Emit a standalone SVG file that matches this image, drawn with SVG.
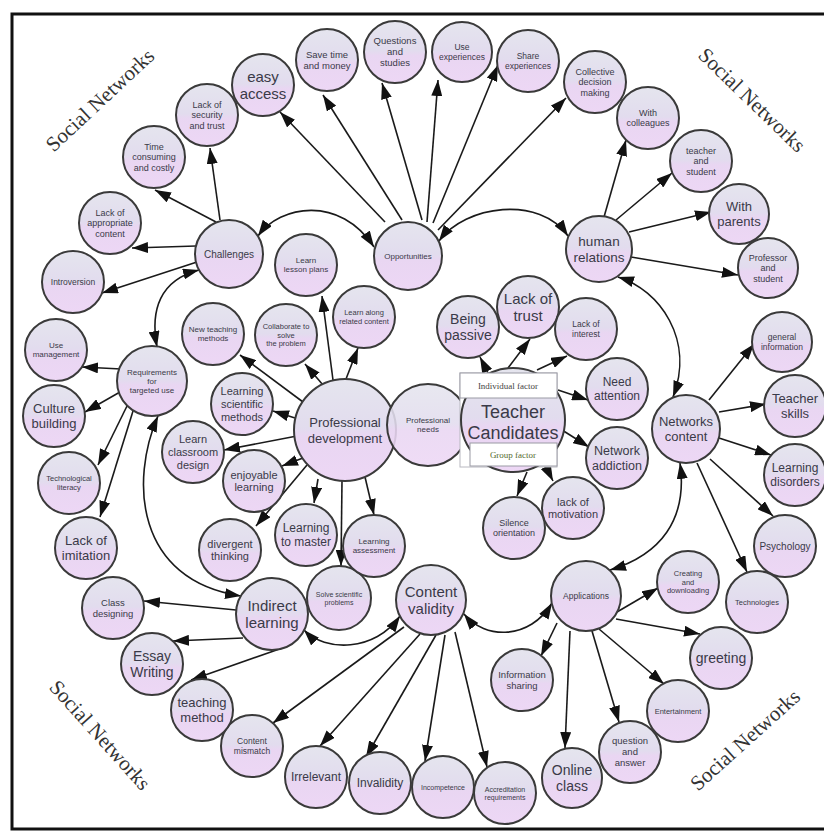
<svg xmlns="http://www.w3.org/2000/svg" width="824" height="832" viewBox="0 0 824 832">
<defs>
<linearGradient id="ng" x1="0" y1="0" x2="0" y2="1">
<stop offset="0" stop-color="#e5e5ee"/>
<stop offset="0.48" stop-color="#e2dcee"/>
<stop offset="0.56" stop-color="#e9d6f2"/>
<stop offset="1" stop-color="#edd7f5"/>
</linearGradient>
<marker id="ah" markerUnits="userSpaceOnUse" markerWidth="16" markerHeight="11" viewBox="0 0 16 11" refX="16" refY="5.5" orient="auto-start-reverse">
<path d="M0,0 L16,5.5 L0,11 z" fill="#111"/>
</marker>
</defs>
<style>
.node circle{fill:url(#ng);stroke:#3a3a3a;stroke-width:2}
.node text{font-family:"Liberation Sans",Arial,sans-serif;fill:#3a3a48;text-anchor:middle}
.edges line,.edges path{stroke:#1a1a1a;stroke-width:1.6;fill:none;marker-end:url(#ah)}
.edges path{marker-start:url(#ah)}
.sn{font-family:"Liberation Serif","Times New Roman",serif;font-size:21px;fill:#333;text-anchor:middle}
</style>
<rect x="0" y="0" width="824" height="832" fill="#fff"/>
<rect x="12" y="14" width="814" height="815" fill="#fff" stroke="#111" stroke-width="3"/>
<g id="labels">
<text class="sn" transform="translate(100,100) rotate(-43)" y="7">Social Networks</text>
<text class="sn" transform="translate(752,100) rotate(44)" y="7">Social Networks</text>
<text class="sn" transform="translate(100,735) rotate(48)" y="7">Social Networks</text>
<text class="sn" transform="translate(745,740) rotate(-42)" y="7">Social Networks</text>
</g>
<g id="connectors" class="edges">
<line x1="385" y1="222" x2="280" y2="112"/>
<line x1="402" y1="220" x2="323" y2="95"/>
<line x1="422" y1="220" x2="382" y2="83"/>
<line x1="427" y1="222" x2="438" y2="80"/>
<line x1="433" y1="223" x2="498" y2="65"/>
<line x1="438" y1="230" x2="566" y2="98"/>
<line x1="220" y1="220" x2="210" y2="148"/>
<line x1="216" y1="222" x2="155" y2="190"/>
<line x1="196" y1="246" x2="132" y2="248"/>
<line x1="197" y1="262" x2="102" y2="293"/>
<line x1="604" y1="217" x2="626" y2="140"/>
<line x1="616" y1="220" x2="672" y2="173"/>
<line x1="629" y1="232" x2="711" y2="212"/>
<line x1="631" y1="257" x2="738" y2="275"/>
<line x1="121" y1="369" x2="82" y2="367"/>
<line x1="120" y1="392" x2="85" y2="412"/>
<line x1="127" y1="406" x2="98" y2="465"/>
<line x1="133" y1="411" x2="100" y2="517"/>
<line x1="333" y1="380" x2="322" y2="296"/>
<line x1="346" y1="379" x2="358" y2="348"/>
<line x1="323" y1="385" x2="305" y2="364"/>
<line x1="303" y1="402" x2="240" y2="355"/>
<line x1="295" y1="418" x2="273" y2="411"/>
<line x1="297" y1="436" x2="224" y2="450"/>
<line x1="303" y1="458" x2="282" y2="466"/>
<line x1="307" y1="465" x2="256" y2="526"/>
<line x1="318" y1="479" x2="314" y2="503"/>
<line x1="342" y1="481" x2="341" y2="566"/>
<line x1="365" y1="477" x2="374" y2="515"/>
<line x1="489" y1="375" x2="480" y2="357"/>
<line x1="508" y1="368" x2="530" y2="339"/>
<line x1="537" y1="370" x2="567" y2="356"/>
<line x1="558" y1="390" x2="588" y2="400"/>
<line x1="562" y1="430" x2="589" y2="447"/>
<line x1="545" y1="465" x2="553" y2="481"/>
<line x1="527" y1="472" x2="517" y2="496"/>
<line x1="709" y1="400" x2="754" y2="344"/>
<line x1="719" y1="412" x2="766" y2="404"/>
<line x1="719" y1="438" x2="771" y2="455"/>
<line x1="710" y1="459" x2="773" y2="516"/>
<line x1="697" y1="463" x2="747" y2="572"/>
<line x1="617" y1="612" x2="658" y2="588"/>
<line x1="616" y1="619" x2="700" y2="634"/>
<line x1="599" y1="629" x2="664" y2="684"/>
<line x1="592" y1="631" x2="619" y2="722"/>
<line x1="570" y1="631" x2="565" y2="748"/>
<line x1="557" y1="623" x2="541" y2="656"/>
<line x1="455" y1="632" x2="487" y2="767"/>
<line x1="445" y1="635" x2="425" y2="761"/>
<line x1="436" y1="635" x2="366" y2="757"/>
<line x1="420" y1="634" x2="320" y2="746"/>
<line x1="404" y1="627" x2="273" y2="723"/>
<line x1="236" y1="610" x2="144" y2="601"/>
<line x1="243" y1="638" x2="173" y2="641"/>
<line x1="288" y1="646" x2="191" y2="680"/>
<path d="M258,236 C280,205 340,195 374,247"/>
<path d="M439,241 C465,205 540,195 568,236"/>
<path d="M618,277 C660,290 695,340 673,397"/>
<path d="M680,463 C688,520 660,555 610,570"/>
<path d="M464,614 C485,640 530,640 552,603"/>
<path d="M304,630 C325,652 375,652 400,616"/>
<path d="M241,596 C135,580 130,480 158,416"/>
<path d="M157,347 C150,310 160,280 199,270"/>
</g>
<g id="nodes">
<g id="easy-access" class="node"><circle cx="263" cy="85" r="31"/><text font-size="15"><tspan x="263" y="81.6">easy</tspan><tspan x="263" y="98.9">access</tspan></text></g>
<g id="save-time" class="node"><circle cx="327" cy="60" r="31"/><text font-size="9.5"><tspan x="327" y="57.9">Save time</tspan><tspan x="327" y="68.8">and money</tspan></text></g>
<g id="questions" class="node"><circle cx="395" cy="52" r="31"/><text font-size="9.5"><tspan x="395" y="44.4">Questions</tspan><tspan x="395" y="55.3">and</tspan><tspan x="395" y="66.2">studies</tspan></text></g>
<g id="use-experiences" class="node"><circle cx="462" cy="52" r="30"/><text font-size="8.5"><tspan x="462" y="50.1">Use</tspan><tspan x="462" y="59.9">experiences</tspan></text></g>
<g id="share-experiences" class="node"><circle cx="528" cy="61" r="31"/><text font-size="8.5"><tspan x="528" y="59.1">Share</tspan><tspan x="528" y="68.9">experiences</tspan></text></g>
<g id="collective" class="node"><circle cx="595" cy="82" r="31"/><text font-size="9"><tspan x="595" y="74.8">Collective</tspan><tspan x="595" y="85.2">decision</tspan><tspan x="595" y="95.5">making</tspan></text></g>
<g id="with-colleagues" class="node"><circle cx="648" cy="118" r="31"/><text font-size="9"><tspan x="648" y="116">With</tspan><tspan x="648" y="126.3">colleagues</tspan></text></g>
<g id="teacher-student" class="node"><circle cx="701" cy="161" r="31"/><text font-size="9"><tspan x="701" y="153.8">teacher</tspan><tspan x="701" y="164.2">and</tspan><tspan x="701" y="174.5">student</tspan></text></g>
<g id="with-parents" class="node"><circle cx="739" cy="214" r="30"/><text font-size="13"><tspan x="739" y="211">With</tspan><tspan x="739" y="226">parents</tspan></text></g>
<g id="professor-student" class="node"><circle cx="768" cy="268" r="30"/><text font-size="9"><tspan x="768" y="260.8">Professor</tspan><tspan x="768" y="271.2">and</tspan><tspan x="768" y="281.5">student</tspan></text></g>
<g id="human-relations" class="node"><circle cx="599" cy="249" r="33"/><text font-size="13.5"><tspan x="599" y="246">human</tspan><tspan x="599" y="261.5">relations</tspan></text></g>
<g id="opportunities" class="node"><circle cx="408" cy="256" r="34"/><text font-size="8" x="408" y="258.8">Opportunities</text></g>
<g id="lack-security" class="node"><circle cx="207" cy="115" r="31"/><text font-size="9"><tspan x="207" y="107.8">Lack of</tspan><tspan x="207" y="118.2">security</tspan><tspan x="207" y="128.5">and trust</tspan></text></g>
<g id="time-consuming" class="node"><circle cx="154" cy="157" r="31"/><text font-size="9"><tspan x="154" y="149.8">Time</tspan><tspan x="154" y="160.2">consuming</tspan><tspan x="154" y="170.5">and costly</tspan></text></g>
<g id="lack-appropriate" class="node"><circle cx="110" cy="223" r="31"/><text font-size="9"><tspan x="110" y="215.8">Lack of</tspan><tspan x="110" y="226.2">appropriate</tspan><tspan x="110" y="236.5">content</tspan></text></g>
<g id="challenges" class="node"><circle cx="229" cy="254" r="34"/><text font-size="10" x="229" y="257.5">Challenges</text></g>
<g id="introversion" class="node"><circle cx="73" cy="282" r="31"/><text font-size="8.5" x="73" y="285">Introversion</text></g>
<g id="use-management" class="node"><circle cx="56" cy="350" r="31"/><text font-size="8"><tspan x="56" y="348.2">Use</tspan><tspan x="56" y="357.4">management</tspan></text></g>
<g id="culture-building" class="node"><circle cx="54" cy="416" r="31"/><text font-size="13"><tspan x="54" y="413">Culture</tspan><tspan x="54" y="428">building</tspan></text></g>
<g id="requirements" class="node"><circle cx="152" cy="381" r="35"/><text font-size="8"><tspan x="152" y="374.6">Requirements</tspan><tspan x="152" y="383.8">for</tspan><tspan x="152" y="393">targeted use</tspan></text></g>
<g id="tech-literacy" class="node"><circle cx="69" cy="483" r="31"/><text font-size="7.5"><tspan x="69" y="481.3">Technological</tspan><tspan x="69" y="489.9">literacy</tspan></text></g>
<g id="lack-imitation" class="node"><circle cx="86" cy="548" r="31"/><text font-size="13"><tspan x="86" y="545">Lack of</tspan><tspan x="86" y="560">imitation</tspan></text></g>
<g id="new-teaching" class="node"><circle cx="213" cy="334" r="31"/><text font-size="8"><tspan x="213" y="332.2">New teaching</tspan><tspan x="213" y="341.4">methods</tspan></text></g>
<g id="collaborate" class="node"><circle cx="286" cy="335" r="31"/><text font-size="7.5"><tspan x="286" y="329">Collaborate to</tspan><tspan x="286" y="337.6">solve</tspan><tspan x="286" y="346.2">the problem</tspan></text></g>
<g id="lesson-plans" class="node"><circle cx="306" cy="265" r="31"/><text font-size="8"><tspan x="306" y="263.2">Learn</tspan><tspan x="306" y="272.4">lesson plans</tspan></text></g>
<g id="related-content" class="node"><circle cx="364" cy="317" r="31"/><text font-size="7.5"><tspan x="364" y="315.3">Learn along</tspan><tspan x="364" y="323.9">related content</tspan></text></g>
<g id="scientific-methods" class="node"><circle cx="242" cy="404" r="31"/><text font-size="11"><tspan x="242" y="395.2">Learning</tspan><tspan x="242" y="407.9">scientific</tspan><tspan x="242" y="420.5">methods</tspan></text></g>
<g id="classroom-design" class="node"><circle cx="193" cy="452" r="31"/><text font-size="11"><tspan x="193" y="443.2">Learn</tspan><tspan x="193" y="455.9">classroom</tspan><tspan x="193" y="468.5">design</tspan></text></g>
<g id="enjoyable-learning" class="node"><circle cx="254" cy="481" r="31"/><text font-size="11"><tspan x="254" y="478.6">enjoyable</tspan><tspan x="254" y="491.2">learning</tspan></text></g>
<g id="divergent-thinking" class="node"><circle cx="230" cy="550" r="31"/><text font-size="11"><tspan x="230" y="547.6">divergent</tspan><tspan x="230" y="560.2">thinking</tspan></text></g>
<g id="learning-master" class="node"><circle cx="306" cy="535" r="31"/><text font-size="12"><tspan x="306" y="532.3">Learning</tspan><tspan x="306" y="546.1">to master</tspan></text></g>
<g id="solve-problems" class="node"><circle cx="339" cy="598" r="32"/><text font-size="7"><tspan x="339" y="596.5">Solve scientific</tspan><tspan x="339" y="604.5">problems</tspan></text></g>
<g id="learning-assessment" class="node"><circle cx="374" cy="546" r="31"/><text font-size="8"><tspan x="374" y="544.2">Learning</tspan><tspan x="374" y="553.4">assessment</tspan></text></g>
<g id="professional-development" class="node"><circle cx="345" cy="430" r="51"/><text font-size="13"><tspan x="345" y="427">Professional</tspan><tspan x="345" y="442.5">development</tspan></text></g>
<g id="professional-needs" class="node"><circle cx="428" cy="425" r="41" fill-opacity="0.88"/><text font-size="8"><tspan x="428" y="423.2">Professional</tspan><tspan x="428" y="432.4">needs</tspan></text></g>
<g id="teacher-candidates" class="node">
<rect x="460" y="373" width="97" height="94" fill="#fff" stroke="#b8b8c0" stroke-width="1"/>
<circle cx="513" cy="420" r="52"/>
<rect x="460" y="373" width="97" height="25" fill="#fff" stroke="#9a9aa4" stroke-width="1"/>
<rect x="470" y="443" width="87" height="23" fill="#fff" stroke="#9a9aa4" stroke-width="1"/>
<text font-size="18"><tspan x="513" y="418">Teacher</tspan><tspan x="513" y="439">Candidates</tspan></text>
<text font-size="9" x="508" y="389" style="font-family:'Liberation Serif',serif;fill:#444">Individual factor</text>
<text font-size="9" x="513" y="458" style="font-family:'Liberation Serif',serif;fill:#556b2f">Group factor</text>
</g>
<g id="being-passive" class="node"><circle cx="468" cy="327" r="31"/><text font-size="14"><tspan x="468" y="323.9">Being</tspan><tspan x="468" y="340">passive</tspan></text></g>
<g id="lack-trust" class="node"><circle cx="528" cy="307" r="31"/><text font-size="15"><tspan x="528" y="303.6">Lack of</tspan><tspan x="528" y="320.9">trust</tspan></text></g>
<g id="lack-interest" class="node"><circle cx="586" cy="329" r="31"/><text font-size="8.5"><tspan x="586" y="327.1">Lack of</tspan><tspan x="586" y="336.9">interest</tspan></text></g>
<g id="need-attention" class="node"><circle cx="617" cy="389" r="31"/><text font-size="12"><tspan x="617" y="386.3">Need</tspan><tspan x="617" y="400.1">attention</tspan></text></g>
<g id="network-addiction" class="node"><circle cx="617" cy="458" r="31"/><text font-size="12.5"><tspan x="617" y="455.2">Network</tspan><tspan x="617" y="469.6">addiction</tspan></text></g>
<g id="lack-motivation" class="node"><circle cx="573" cy="508" r="31"/><text font-size="11"><tspan x="573" y="505.6">lack of</tspan><tspan x="573" y="518.2">motivation</tspan></text></g>
<g id="silence-orientation" class="node"><circle cx="514" cy="528" r="31"/><text font-size="9"><tspan x="514" y="526">Silence</tspan><tspan x="514" y="536.3">orientation</tspan></text></g>
<g id="networks-content" class="node"><circle cx="686" cy="429" r="34"/><text font-size="13"><tspan x="686" y="426">Networks</tspan><tspan x="686" y="441">content</tspan></text></g>
<g id="general-information" class="node"><circle cx="782" cy="342" r="30"/><text font-size="8.5"><tspan x="782" y="340.1">general</tspan><tspan x="782" y="349.9">information</tspan></text></g>
<g id="teacher-skills" class="node"><circle cx="795" cy="406" r="31"/><text font-size="13"><tspan x="795" y="403">Teacher</tspan><tspan x="795" y="418">skills</tspan></text></g>
<g id="learning-disorders" class="node"><circle cx="795" cy="475" r="31"/><text font-size="12"><tspan x="795" y="472.3">Learning</tspan><tspan x="795" y="486.1">disorders</tspan></text></g>
<g id="psychology" class="node"><circle cx="785" cy="546" r="31"/><text font-size="10" x="785" y="549.5">Psychology</text></g>
<g id="technologies" class="node"><circle cx="757" cy="602" r="31"/><text font-size="7.5" x="757" y="604.6">Technologies</text></g>
<g id="creating-downloading" class="node"><circle cx="688" cy="582" r="31"/><text font-size="7.5"><tspan x="688" y="576">Creating</tspan><tspan x="688" y="584.6">and</tspan><tspan x="688" y="593.2">downloading</tspan></text></g>
<g id="applications" class="node"><circle cx="586" cy="596" r="35"/><text font-size="8.5" x="586" y="599">Applications</text></g>
<g id="greeting" class="node"><circle cx="721" cy="658" r="31"/><text font-size="14" x="721" y="662.9">greeting</text></g>
<g id="entertainment" class="node"><circle cx="678" cy="711" r="31"/><text font-size="7.5" x="678" y="713.6">Entertainment</text></g>
<g id="question-answer" class="node"><circle cx="630" cy="752" r="31"/><text font-size="9.5"><tspan x="630" y="744.4">question</tspan><tspan x="630" y="755.3">and</tspan><tspan x="630" y="766.2">answer</tspan></text></g>
<g id="online-class" class="node"><circle cx="572" cy="778" r="30"/><text font-size="14"><tspan x="572" y="774.9">Online</tspan><tspan x="572" y="791">class</tspan></text></g>
<g id="information-sharing" class="node"><circle cx="522" cy="680" r="31"/><text font-size="9.5"><tspan x="522" y="677.9">Information</tspan><tspan x="522" y="688.8">sharing</tspan></text></g>
<g id="content-validity" class="node"><circle cx="431" cy="600" r="35"/><text font-size="15"><tspan x="431" y="596.6">Content</tspan><tspan x="431" y="613.9">validity</tspan></text></g>
<g id="accreditation" class="node"><circle cx="505" cy="793" r="31"/><text font-size="7"><tspan x="505" y="791.5">Accreditation</tspan><tspan x="505" y="799.5">requirements</tspan></text></g>
<g id="incompetence" class="node"><circle cx="443" cy="787" r="31"/><text font-size="7" x="443" y="789.5">Incompetence</text></g>
<g id="invalidity" class="node"><circle cx="380" cy="783" r="31"/><text font-size="12" x="380" y="787.2">Invalidity</text></g>
<g id="irrelevant" class="node"><circle cx="316" cy="777" r="31"/><text font-size="12" x="316" y="781.2">Irrelevant</text></g>
<g id="content-mismatch" class="node"><circle cx="252" cy="746" r="31"/><text font-size="8.5"><tspan x="252" y="744.1">Content</tspan><tspan x="252" y="753.9">mismatch</tspan></text></g>
<g id="teaching-method" class="node"><circle cx="202" cy="710" r="31"/><text font-size="13"><tspan x="202" y="707">teaching</tspan><tspan x="202" y="722">method</tspan></text></g>
<g id="essay-writing" class="node"><circle cx="152" cy="664" r="31"/><text font-size="14"><tspan x="152" y="660.9">Essay</tspan><tspan x="152" y="677">Writing</tspan></text></g>
<g id="class-designing" class="node"><circle cx="113" cy="608" r="31"/><text font-size="9.5"><tspan x="113" y="605.9">Class</tspan><tspan x="113" y="616.8">designing</tspan></text></g>
<g id="indirect-learning" class="node"><circle cx="272" cy="614" r="36"/><text font-size="15"><tspan x="272" y="610.6">Indirect</tspan><tspan x="272" y="627.9">learning</tspan></text></g>
</g>
</svg>
